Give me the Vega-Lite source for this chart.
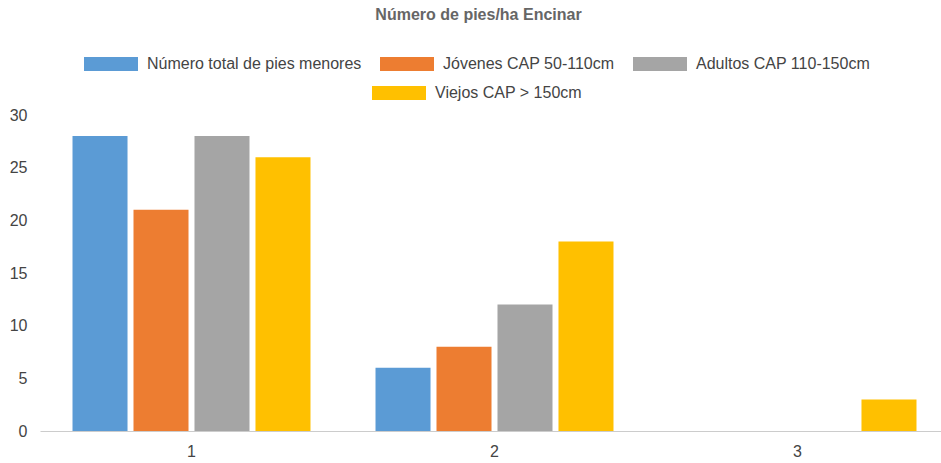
{
  "$schema": "https://vega.github.io/schema/vega-lite/v6.json",
  "autosize": "none",
  "padding": {"left": 40, "top": 115, "right": 0, "bottom": 32},
  "width": 901,
  "height": 316,
  "background": "white",
  "title": {
    "text": "Número de pies/ha Encinar",
    "font": "Liberation Sans",
    "fontSize": 16,
    "fontWeight": "bold",
    "color": "#666666",
    "offset": 14,
    "dx": -12
  },
  "data": {
    "values": [
      {"grupo": "1", "serie": "Número total de pies menores", "valor": 28},
      {"grupo": "1", "serie": "Jóvenes CAP 50-110cm", "valor": 21},
      {"grupo": "1", "serie": "Adultos CAP 110-150cm", "valor": 28},
      {"grupo": "1", "serie": "Viejos CAP > 150cm", "valor": 26},
      {"grupo": "2", "serie": "Número total de pies menores", "valor": 6},
      {"grupo": "2", "serie": "Jóvenes CAP 50-110cm", "valor": 8},
      {"grupo": "2", "serie": "Adultos CAP 110-150cm", "valor": 12},
      {"grupo": "2", "serie": "Viejos CAP > 150cm", "valor": 18},
      {"grupo": "3", "serie": "Número total de pies menores", "valor": 0},
      {"grupo": "3", "serie": "Jóvenes CAP 50-110cm", "valor": 0},
      {"grupo": "3", "serie": "Adultos CAP 110-150cm", "valor": 0},
      {"grupo": "3", "serie": "Viejos CAP > 150cm", "valor": 3}
    ]
  },
  "encoding": {
    "x": {
      "field": "grupo",
      "type": "nominal",
      "scale": {"domain": ["1", "2", "3"], "range": [0, 909], "paddingInner": 0, "paddingOuter": 0},
      "axis": {
        "title": null,
        "labelAngle": 0,
        "labelFont": "Liberation Sans",
        "labelFontSize": 16,
        "labelColor": "#444444",
        "labelPadding": 12,
        "ticks": false,
        "domainColor": "#cccccc",
        "domainWidth": 1,
        "grid": false
      }
    },
    "xOffset": {
      "field": "serie",
      "type": "nominal",
      "scale": {
        "domain": ["Número total de pies menores", "Jóvenes CAP 50-110cm", "Adultos CAP 110-150cm", "Viejos CAP > 150cm"],
        "paddingInner": 0.098,
        "paddingOuter": 0.533
      }
    },
    "y": {
      "field": "valor",
      "type": "quantitative",
      "scale": {"domain": [0, 30], "nice": false},
      "axis": {
        "title": null,
        "values": [0, 5, 10, 15, 20, 25, 30],
        "labelFont": "Liberation Sans",
        "labelFontSize": 16,
        "labelColor": "#444444",
        "labelPadding": 13,
        "ticks": false,
        "domain": false,
        "grid": false
      }
    }
  },
  "layer": [
    {
      "transform": [{"filter": "datum.serie !== 'Viejos CAP > 150cm'"}],
      "mark": {"type": "bar"},
      "encoding": {
        "color": {
          "field": "serie",
          "type": "nominal",
          "scale": {
            "domain": ["Número total de pies menores", "Jóvenes CAP 50-110cm", "Adultos CAP 110-150cm"],
            "range": ["#5B9BD5", "#ED7D31", "#A5A5A5"]
          },
          "legend": {
            "title": null,
            "orient": "none",
            "legendX": 44,
            "legendY": -78,
            "direction": "horizontal"
          }
        }
      }
    },
    {
      "transform": [{"filter": "datum.serie === 'Viejos CAP > 150cm'"}],
      "mark": {"type": "bar"},
      "encoding": {
        "color": {
          "field": "serie",
          "type": "nominal",
          "scale": {
            "domain": ["Viejos CAP > 150cm"],
            "range": ["#FFC000"]
          },
          "legend": {
            "title": null,
            "orient": "none",
            "legendX": 332,
            "legendY": -49,
            "direction": "horizontal"
          }
        }
      }
    }
  ],
  "resolve": {"scale": {"color": "independent"}, "legend": {"color": "independent"}},
  "config": {
    "view": {"stroke": null},
    "legend": {
      "padding": 0,
      "symbolType": "M-1,-0.26L1,-0.26L1,0.26L-1,0.26Z",
      "symbolSize": 2916,
      "symbolStrokeWidth": 0,
      "symbolOpacity": 1,
      "labelFont": "Liberation Sans",
      "labelFontSize": 16,
      "labelColor": "#444444",
      "labelOffset": 9,
      "labelLimit": 400,
      "columnPadding": 18
    }
  }
}
